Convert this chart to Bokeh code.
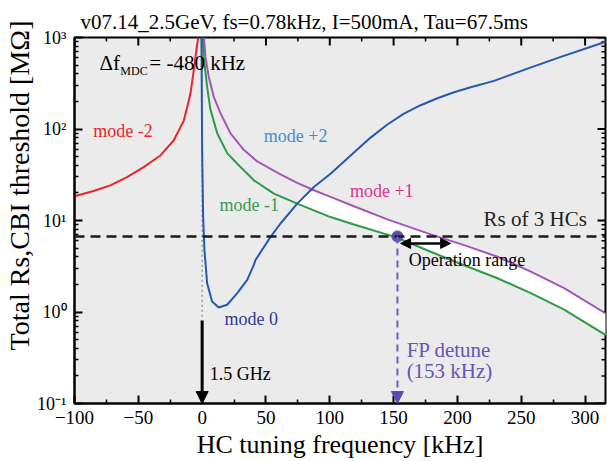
import math
from bokeh.plotting import figure
from bokeh.models import (Range1d, FixedTicker, CustomJSTickFormatter,
                          Label, Arrow, NormalHead, Span, Title)
from bokeh.embed import file_html
from bokeh.resources import INLINE

# ---------------- data ----------------
TITLE = "v07.14_2.5GeV, fs=0.78kHz, I=500mA, Tau=67.5ms"
X_LABEL = "HC tuning frequency [kHz]"
Y_LABEL = "Total Rs,CBI threshold [M\u03a9]"
X_MIN, X_MAX = -100, 316
Y_MIN, Y_MAX = 0.1, 1000
x_ticks = [-100, -50, 0, 50, 100, 150, 200, 250, 300]
x_minor = [-75, -25, 25, 75, 125, 175, 225, 275]
y_ticks = [0.1, 1, 10, 100, 1000]
y_minor = [m * 10 ** e for e in range(-1, 3) for m in range(2, 10)]

# mode -2 (red)
mode_m2_f = [-100, -85.0, -71.9, -58.8, -45.8, -32.7, -22.3, -14.4, -9.2, -6.6, -3.9, -2.9]
mode_m2_v = [18.4, 21.0, 24.2, 29.8, 38.3, 51.4, 74.8, 123, 241, 431, 843, 1000]

# mode -1 (green)
mode_m1_f = [0.5, 1.25, 3.9, 6.5, 11.8, 19.6, 27.5, 40.5, 56.2, 74.5, 87.5, 100.6, 118.9,
             151.6, 179.1, 205.2, 231.4, 257.5, 283.6, 317.9]
mode_m1_v = [1000, 614, 289, 163, 89.8, 54.5, 41.7, 27.5, 19.7, 15.3, 12.9, 10.9, 9.06,
             6.58, 4.55, 3.24, 2.34, 1.61, 1.06, 0.541]

# mode +1 (purple)
mode_p1_f = [1.4, 2.6, 5.2, 9.1, 14.4, 22.2, 32.6, 43.1, 61.4, 74.5, 87.5, 100.6, 118.9,
             145.1, 179.1, 205.2, 231.4, 257.5, 283.6, 317.9]
mode_p1_v = [1000, 614, 371, 225, 148, 89.8, 59.3, 44.2, 31.9, 25.8, 21.4, 18.1, 14.3,
             10.3, 7.05, 5.38, 4.02, 2.76, 1.82, 0.933]

# mode 0 / mode +2 (blue)
mode_0_f = [-0.55, 0.0, 0.78, 1.8, 3.9, 7.8, 13.0, 19.6, 27.5, 35.3, 40.5, 41.8, 53.6, 61.4,
            74.5, 87.5, 100.6, 118.9, 132.0, 145.1, 158.1, 171.2, 184.3, 197.3, 210.4,
            228.7, 254.9, 281.0, 317.9]
mode_0_v = [1000, 58.2, 10.9, 4.75, 2.06, 1.30, 1.12, 1.20, 1.61, 2.24, 3.27, 3.70, 6.63, 9.27,
            15.3, 23.2, 32.4, 55.3, 80.5, 112, 147, 182, 217, 252, 286,
            336, 457, 614, 916]

RS_3HC = 6.7          # MOhm, Rs of 3 HCs
FP_DETUNE = 153       # kHz
OP_RANGE = [155.5, 194.7]
OP_RANGE_Y = 5.62
ARROW_15GHZ_TOP = 0.807
DOT_LINE_BOTTOM = 0.887

SERIF = "Liberation Serif"

# ---------------- figure ----------------
p = figure(width=607, height=461, x_range=Range1d(X_MIN, X_MAX), y_range=Range1d(Y_MIN, Y_MAX),
           y_axis_type="log", output_backend="svg", toolbar_location=None,
           min_border_left=74, min_border_right=2, min_border_top=37, min_border_bottom=57)
p.background_fill_color = "#ebebeb"
p.border_fill_color = "white"
p.outline_line_color = "black"
p.outline_line_width = 2
p.xgrid.visible = False
p.ygrid.visible = False

p.title.text = TITLE
p.title.text_font = SERIF
p.title.text_font_size = "21px"
p.title.text_font_style = "normal"
p.title.text_color = "black"
p.title.align = "left"
p.title.offset = 6
p.title.standoff = 8

# the label sits above the middle of the frame in the reference: lead with no-break spaces
ytitle = Title(text="\u00a0" * 10 + Y_LABEL, align="center", text_font=SERIF,
               text_font_size="28px", text_font_style="normal", text_color="black", standoff=0)
p.add_layout(ytitle, "left")

xt = FixedTicker(ticks=x_ticks, minor_ticks=x_minor)
yt = FixedTicker(ticks=y_ticks, minor_ticks=y_minor)

sup_fmt = CustomJSTickFormatter(code=r"""
const sup = {"-":"\u207B","0":"\u2070","1":"\u00B9","2":"\u00B2","3":"\u00B3","4":"\u2074",
             "5":"\u2075","6":"\u2076","7":"\u2077","8":"\u2078","9":"\u2079"};
const e = Math.round(Math.log10(tick));
return "10" + String(e).split("").map(c => sup[c]).join("");
""")

def style_axis(ax):
    ax.axis_line_width = 2
    ax.axis_line_color = "black"
    ax.major_tick_in = 8
    ax.major_tick_out = 0
    ax.minor_tick_in = 4
    ax.minor_tick_out = 0
    ax.major_tick_line_width = 2
    ax.minor_tick_line_width = 1.5
    ax.major_tick_line_color = "black"
    ax.minor_tick_line_color = "black"
    ax.major_label_text_font = SERIF
    ax.major_label_text_color = "black"

bx = p.xaxis[0]
bx.ticker = xt
style_axis(bx)
bx.major_label_text_font_size = "19px"
bx.major_label_standoff = 7
bx.axis_label = X_LABEL
bx.axis_label_text_font = SERIF
bx.axis_label_text_font_size = "26px"
bx.axis_label_text_font_style = "normal"
bx.axis_label_text_color = "black"
bx.axis_label_standoff = 3

ly = p.yaxis[0]
ly.ticker = yt
ly.formatter = sup_fmt
style_axis(ly)
ly.major_label_text_font_size = "18px"
ly.major_label_standoff = 8

# mirrored inward ticks on top and right edges (half of each dash is clipped by the frame)
p.scatter(x_ticks, [Y_MAX] * len(x_ticks), marker="dash", angle=math.pi / 2, size=16,
          line_color="black", line_width=2)
p.scatter(x_minor, [Y_MAX] * len(x_minor), marker="dash", angle=math.pi / 2, size=8,
          line_color="black", line_width=1.5)
p.scatter([X_MAX] * len(y_ticks), y_ticks, marker="dash", size=16,
          line_color="black", line_width=2)
p.scatter([X_MAX] * len(y_minor), y_minor, marker="dash", size=8,
          line_color="black", line_width=1.5)

# white band between mode -1 and mode +1 (stable region)
g_idx = [i for i, f in enumerate(mode_m1_f) if f >= 74.5]
p_idx = [i for i, f in enumerate(mode_p1_f) if f >= 87.5]
band_x = [mode_m1_f[i] for i in g_idx] + [mode_p1_f[i] for i in reversed(p_idx)]
band_y = [mode_m1_v[i] for i in g_idx] + [mode_p1_v[i] for i in reversed(p_idx)]
p.patch(band_x, band_y, fill_color="white", line_color=None)

# grey dotted line at 0
p.segment(x0=[0], y0=[DOT_LINE_BOTTOM], x1=[0], y1=[Y_MAX], line_color="#9a9a9a",
          line_width=1.5, line_dash="2 3")

# curves
p.line(mode_m2_f, mode_m2_v, line_color="#e8262a", line_width=2)
p.line(mode_p1_f, mode_p1_v, line_color="#a457b8", line_width=2)
p.line(mode_m1_f, mode_m1_v, line_color="#2e9b45", line_width=2)
p.line(mode_0_f, mode_0_v, line_color="#2559ad", line_width=2)

# Rs of 3 HCs
p.add_layout(Span(location=RS_3HC, dimension="width", line_color="#1c1c1c",
                  line_width=2.5, line_dash="10 6"))

# FP detune
p.add_layout(Arrow(x_start=FP_DETUNE, y_start=RS_3HC, x_end=FP_DETUNE, y_end=Y_MIN,
                   line_color="#6a5cb8", line_width=2, line_dash="7 5",
                   end=NormalHead(size=12, fill_color="#5a4fae", line_color="#5a4fae")))
p.scatter([FP_DETUNE], [RS_3HC], size=11, color="#5a4fae")

# operation range arrow
p.add_layout(Arrow(x_start=OP_RANGE[0], y_start=OP_RANGE_Y, x_end=OP_RANGE[1], y_end=OP_RANGE_Y,
                   line_color="black", line_width=2.5,
                   start=NormalHead(size=10, fill_color="black", line_color="black"),
                   end=NormalHead(size=10, fill_color="black", line_color="black")))

# 1.5 GHz arrow
p.add_layout(Arrow(x_start=0, y_start=ARROW_15GHZ_TOP, x_end=0, y_end=Y_MIN,
                   line_color="black", line_width=3,
                   end=NormalHead(size=12, fill_color="black", line_color="black")))

def lab(x, y, text, size, color="black", align="left", baseline="middle"):
    p.add_layout(Label(x=x, y=y, text=text, text_font=SERIF, text_font_size=size,
                       text_color=color, text_align=align, text_baseline=baseline))

# texts inside the frame
lab(-80.5, 527, "\u0394f", "21px", baseline="alphabetic")
lab(-64.1, 432, "MDC", "12px", baseline="alphabetic")
lab(-41.4, 527, "= -480 kHz", "21px", baseline="alphabetic")

lab(-85.3, 96.2, "mode -2", "18px", color="#e8262a")
lab(48.3, 84.1, "mode +2", "18px", color="#3d8fd0")
lab(13.6, 14.7, "mode -1", "18px", color="#3a9a50")
lab(115.8, 20.8, "mode +1", "18px", color="#d9368e")
lab(17.5, 0.843, "mode 0", "18px", color="#2e3b8e")

lab(301.4, 10.3, "Rs of 3 HCs", "21px", color="#222222", align="right")
lab(161.8, 3.70, "Operation range", "18px")
lab(6.0, 0.211, "1.5 GHz", "18px")
lab(160.2, 0.388, "FP detune", "21px", color="#6655b4")
lab(160.2, 0.2255, "(153 kHz)", "21px", color="#6655b4")

open("out.html", "w").write(file_html(p, INLINE))
